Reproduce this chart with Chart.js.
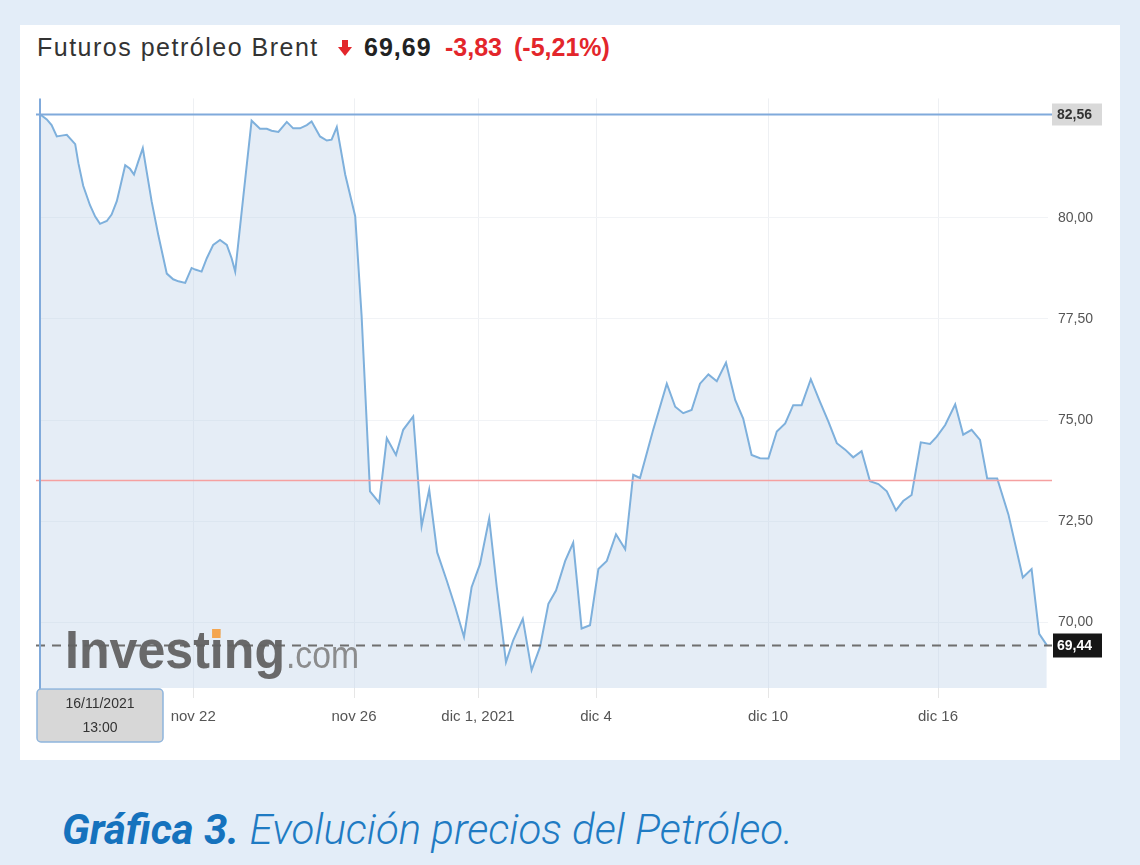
<!DOCTYPE html>
<html lang="es">
<head>
<meta charset="utf-8">
<title>Futuros petróleo Brent</title>
<script src="https://cdn.jsdelivr.net/npm/chart.js@4.4.1/dist/chart.umd.min.js"></script>
<style>
  html, body { margin: 0; padding: 0; }
  body { width: 1140px; height: 865px; background: #e3edf8; position: relative; overflow: hidden; }
  #tarjeta { position: absolute; left: 20px; top: 25px; width: 1100px; height: 735px; background: #ffffff; }
  #titulo span, #titulo svg {
    position: absolute; top: 31px; line-height: 32px; white-space: nowrap;
    font-family: "Liberation Sans", Arial, sans-serif; font-size: 25px; color: #333;
  }
  #titulo .nombre { left: 37px; letter-spacing: 1.5px; }
  #titulo svg { left: 338px; top: 40px; }
  #titulo .precio { left: 364px; font-weight: bold; color: #222; letter-spacing: 1px; }
  #titulo .rojo { font-weight: bold; color: #e3262b; }
  #grafico { position: absolute; left: 0; top: 80px; }
  #pie {
    position: absolute; left: 62px; top: 806px; line-height: 48px; white-space: nowrap;
    font-family: Roboto, "Open Sans", sans-serif; font-style: italic; font-size: 42px; color: #1f7bc3;
  }
  #pie b { font-weight: 700; color: #1572bd; }
  #pie span { font-weight: 300; }
</style>
</head>
<body>
<div id="tarjeta"></div>
<div id="titulo">
  <span class="nombre">Futuros petróleo Brent</span>
  <svg width="14" height="17" viewBox="0 0 14 17"><rect x="4" y="0" width="6" height="8" fill="#e3262b"/><polygon points="0,7 14,7 7,16" fill="#e3262b"/></svg>
  <span class="precio">69,69</span>
  <span class="rojo" style="left:445px">-3,83</span>
  <span class="rojo" style="left:514px">(-5,21%)</span>
</div>
<canvas id="grafico" width="1140" height="700"></canvas>
<div id="pie"><b>Gráfica 3.</b> <span>Evolución precios del Petróleo.</span></div>

<script>
/* --------------- Datos: sesiones desde el 16/11/2021 13:00 y precio (USD) --------------------- */
const dias = [
  0.00, 0.17, 0.29, 0.42, 0.54, 0.67, 0.75, 0.88, 0.96, 1.08, 1.25, 1.38, 1.50, 1.67, 1.79,
  1.92, 2.00, 2.13, 2.25, 2.35, 2.46, 2.57, 2.67, 2.79, 2.96, 3.17, 3.33, 3.46, 3.63, 3.79,
  3.88, 4.04, 4.17, 4.33, 4.50, 4.67, 4.79, 4.88, 5.08, 5.29, 5.50, 5.67, 5.79, 5.96, 6.17,
  6.33, 6.50, 6.67, 6.79, 7.00, 7.17, 7.29, 7.42, 7.63, 7.88, 8.04, 8.25,
  8.48, 8.67, 8.90, 9.08, 9.33, 9.54, 9.73, 9.93, 10.17, 10.38, 10.60, 10.79, 11.00, 11.23,
  11.42, 11.65, 11.83, 12.07, 12.29, 12.50, 12.71, 12.90, 13.13, 13.33, 13.54, 13.75, 13.96,
  14.17, 14.40, 14.63, 14.83, 15.00,
  15.33, 15.67, 15.88, 16.08, 16.29, 16.50, 16.71, 16.92, 17.15, 17.38, 17.58, 17.79, 18.00,
  18.21, 18.42, 18.63, 18.83, 19.04, 19.27, 19.50, 19.71, 19.92, 20.13, 20.33, 20.54, 20.75,
  20.96, 21.17, 21.40, 21.58, 21.79, 22.02, 22.25, 22.42, 22.63, 22.88, 23.08, 23.29, 23.50,
  23.68, 23.93, 24.21, 24.57, 24.79, 24.98, 25.17
];
const precios = [
  82.56, 82.43, 82.29, 82.01, 82.03, 82.05, 81.96, 81.82, 81.35, 80.79, 80.31, 80.03, 79.85, 79.92, 80.08,
  80.41, 80.74, 81.30, 81.21, 81.07, 81.40, 81.72, 81.12, 80.41, 79.56, 78.62, 78.48, 78.43, 78.39, 78.76,
  78.72, 78.67, 79.00, 79.33, 79.45, 79.33, 79.00, 78.67, 80.50, 82.40, 82.20, 82.20, 82.15, 82.12, 82.37,
  82.21, 82.21, 82.29, 82.38, 82.01, 81.91, 81.93, 82.24, 81.07, 80.04, 77.58, 73.24,
  72.96, 74.55, 74.14, 74.76, 75.09, 72.38, 73.28, 71.73, 71.03, 70.38, 69.64, 70.87, 71.44, 72.57,
  70.87, 69.02, 69.56, 70.09, 68.82, 69.39, 70.46, 70.79, 71.52, 71.97, 69.85, 69.93, 71.32,
  71.52, 72.18, 71.81, 73.65, 73.57,
  74.76, 75.90, 75.33, 75.17, 75.25, 75.90, 76.13, 75.96, 76.42, 75.50, 75.04, 74.14, 74.06,
  74.05, 74.72, 74.92, 75.37, 75.37, 76.01, 75.45, 74.96, 74.43, 74.27, 74.08, 74.23, 73.49,
  73.42, 73.24, 72.77, 73.00, 73.15, 74.45, 74.41, 74.59, 74.88, 75.39, 74.64, 74.76, 74.51,
  73.56, 73.56, 72.67, 71.11, 71.32, 69.72, 69.44
];

/* --------------- Eje X: etiquetas de fecha --------------------- */
const tickDias = [3.83, 7.85, 10.95, 13.9, 18.2, 22.45];
const tickEtiquetas = ["nov 22", "nov 26", "dic 1, 2021", "dic 4", "dic 10", "dic 16"];

/* --------------- Eje Y y niveles de referencia --------------------- */
const tickPrecios = [70, 72.5, 75, 77.5, 80];
const cierreAnterior = 73.52;
const precioCursor = 82.56;
const ultimoPrecio = 69.44;
const fechaCursor = ["16/11/2021", "13:00"];

const coma = (v) => v.toFixed(2).replace(".", ",");

/* --------------- Líneas, marca de agua y cajas --------------------- */
const marcas = {
  id: "marcas",
  afterDatasetsDraw(chart) {
    const { ctx, chartArea: a, scales: { x, y } } = chart;
    const linea = (v, color, ancho, guion) => {
      const py = Math.round(y.getPixelForValue(v)) + 0.5;
      ctx.beginPath();
      ctx.setLineDash(guion || []);
      ctx.strokeStyle = color;
      ctx.lineWidth = ancho;
      ctx.moveTo(a.left - 4, py);
      ctx.lineTo(a.right + 4, py);
      ctx.stroke();
      ctx.setLineDash([]);
      return py;
    };
    ctx.save();
    linea(cierreAnterior, "#f5a0a0", 1.5);
    const pyUlt = linea(ultimoPrecio, "#6f6f6f", 2.2, [9, 7]);
    const pyCur = linea(precioCursor, "#80aadb", 2);

    // cursor vertical
    const px0 = x.getPixelForValue(0);
    ctx.beginPath();
    ctx.strokeStyle = "#80aadb";
    ctx.lineWidth = 2;
    ctx.moveTo(px0, a.top);
    ctx.lineTo(px0, a.bottom + 2);
    ctx.stroke();

    // marca de agua
    ctx.textBaseline = "alphabetic";
    ctx.textAlign = "left";
    ctx.font = "bold 53px 'Liberation Sans', Arial, sans-serif";
    const w1 = ctx.measureText("Investing").width;
    const wI = ctx.measureText("Invest").width;
    const wi = ctx.measureText("i").width;
    const k1 = 220 / w1;
    const bx = a.left + 25, by = a.bottom - 20;
    ctx.save();
    ctx.translate(bx, by);
    ctx.scale(k1, 1);
    ctx.fillStyle = "rgba(98,98,98,0.95)";
    ctx.fillText("Investing", 0, 0);
    ctx.fillStyle = "#f4a650";
    ctx.fillRect(wI + wi / 2 - 5, -39, 9, 9);
    ctx.restore();
    ctx.font = "38px 'Liberation Sans', Arial, sans-serif";
    const w2 = ctx.measureText(".com").width;
    ctx.save();
    ctx.translate(bx + 221, by);
    ctx.scale(73 / w2, 1);
    ctx.fillStyle = "rgba(130,130,130,0.9)";
    ctx.fillText(".com", 0, 0);
    ctx.restore();

    // cajas del eje de precios
    ctx.font = "bold 14px 'Liberation Sans', Arial, sans-serif";
    ctx.textBaseline = "middle";
    ctx.fillStyle = "#d9d9d9";
    ctx.fillRect(a.right + 4, pyCur - 11, 50, 22);
    ctx.fillStyle = "#333";
    ctx.fillText(coma(precioCursor), a.right + 9, pyCur + 1);
    ctx.fillStyle = "#161616";
    ctx.fillRect(a.right + 5, pyUlt - 12, 49, 24);
    ctx.fillStyle = "#ffffff";
    ctx.fillText(coma(ultimoPrecio), a.right + 9, pyUlt + 1);

    // caja de la fecha del cursor
    const cx = px0 + 60, cy = a.bottom + 1;
    ctx.beginPath();
    ctx.roundRect(px0 - 3, cy, 126, 53, 4);
    ctx.fillStyle = "#d7d7d7";
    ctx.fill();
    ctx.strokeStyle = "#8fb5dd";
    ctx.lineWidth = 1.5;
    ctx.stroke();
    ctx.fillStyle = "#333";
    ctx.textAlign = "center";
    ctx.font = "14px 'Liberation Sans', Arial, sans-serif";
    ctx.fillText(fechaCursor[0], cx, cy + 15);
    ctx.fillText(fechaCursor[1], cx, cy + 39);
    ctx.restore();
  },
};

/* --------------- Gráfico --------------------- */
Chart.defaults.font.family = "'Liberation Sans', Arial, sans-serif";

new Chart(document.getElementById("grafico"), {
  type: "line",
  plugins: [marcas],
  data: {
    datasets: [
      {
        data: dias.map((d, i) => ({ x: d, y: precios[i] })),
        borderColor: "#7eb0dc",
        borderWidth: 2,
        backgroundColor: "rgba(190,210,232,0.4)",
        fill: "start",
        pointRadius: 0,
        tension: 0,
      },
    ],
  },
  options: {
    responsive: false,
    devicePixelRatio: 1,
    animation: false,
    layout: { padding: { top: 15, left: 40, right: 20, bottom: 32 } },
    plugins: { legend: { display: false }, tooltip: { enabled: false } },
    scales: {
      x: {
        type: "linear",
        min: 0,
        max: 25.2,
        afterBuildTicks: (s) => { s.ticks = tickDias.map((v) => ({ value: v })); },
        afterFit: (s) => { s.height = 60; },
        border: { display: false },
        grid: { color: "#eef0f3", tickColor: "#e6e6e6", tickLength: 10 },
        ticks: {
          autoSkip: false,
          maxRotation: 0,
          padding: 10,
          color: "#555",
          font: { size: 15 },
          callback: (v, i) => tickEtiquetas[i],
        },
      },
      y: {
        position: "right",
        min: 68.38,
        max: 82.95,
        afterBuildTicks: (s) => { s.ticks = tickPrecios.map((v) => ({ value: v })); },
        afterFit: (s) => { s.width = 72; },
        border: { display: false },
        grid: { color: "#f1f3f6", drawTicks: false },
        ticks: { padding: 10, color: "#555", font: { size: 14 }, callback: (v) => coma(v) },
      },
    },
  },
});
</script>
</body>
</html>
